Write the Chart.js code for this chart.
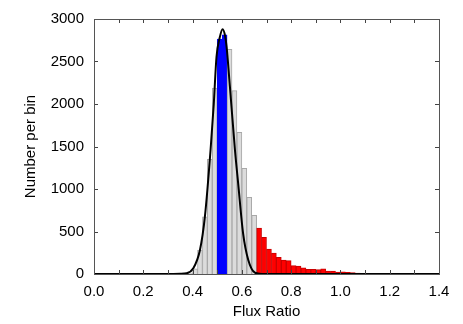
<!DOCTYPE html>
<html><head><meta charset="utf-8">
<script src="https://cdn.jsdelivr.net/npm/chart.js@4"></script>
<style>html,body{margin:0;padding:0;background:#fff}#w{width:463px;height:324px}</style>
</head><body><div id="w"><canvas id="c" width="463" height="324"></canvas></div>
<script>
// Histogram bins (left edges, width 0.02) and counts
const binStart = [0.38,0.40,0.42,0.44,0.46,0.48,0.50,0.52,0.54,0.56,0.58,0.60,0.62,0.64,
  0.66,0.68,0.70,0.72,0.74,0.76,0.78,0.80,0.82,0.84,0.86,0.88,0.90,0.92,0.94,0.96,0.98,
  1.00,1.02,1.04,1.06,1.08,1.10,1.12,1.14,1.16,1.18];
const counts = [12,60,282,674,1349,2188,2765,2815,2643,2157,1667,1243,902,690,
  540,430,294,245,196,165,157,98,94,74,55,55,51,62,35,35,23,
  27,20,16,10,8,6,5,4,3,3];
const binWidth = 0.02;
// Selected ranges
const blueRange = [0.50, 0.54];
const redFrom = 0.66;
// Fitted curve
const curveX = [0,0.30,0.35,0.376,0.403,0.43,0.45,0.473,0.486,0.497,0.51,0.522,0.532,0.538,0.5515,0.572,0.585,0.605,0.626,0.653,0.68,1.4];
const curveY = [0,0,2,8,67,282,674,1459,2000,2550,2780,2880,2800,2674,2204,1459,1067,479,165,15,0,0];
// Axis ticks
const xTicks = [0.0,0.2,0.4,0.6,0.8,1.0,1.2,1.4];
const yTicks = [0,500,1000,1500,2000,2500,3000];

const FONT = "'Liberation Sans', Arial, sans-serif";
const barColors = binStart.map(s => (s >= blueRange[0]-1e-9 && s < blueRange[1]-1e-9) ? '#0000ff' : (s >= redFrom-1e-9 ? '#ff0000' : '#dcdcdc'));
const barBorders = binStart.map(s => (s >= blueRange[0]-1e-9 && s < blueRange[1]-1e-9) ? '#0000ff' : (s >= redFrom-1e-9 ? '#c80000' : '#a8a8a8'));

const frame = {
  id: 'frame',
  afterDraw(chart) {
    const {ctx, chartArea: a, scales: {x, y}} = chart;
    ctx.save();
    ctx.strokeStyle = '#444';
    ctx.lineWidth = 1;
    ctx.beginPath();
    for (let v = 0; v <= 1.4001; v += 0.1) {
      const px = Math.round(x.getPixelForValue(v)) + 0.5;
      ctx.moveTo(px, a.bottom); ctx.lineTo(px, a.bottom - 4);
      ctx.moveTo(px, a.top); ctx.lineTo(px, a.top + 4);
    }
    yTicks.forEach(v => {
      const py = Math.round(y.getPixelForValue(v)) + 0.5;
      ctx.moveTo(a.left, py); ctx.lineTo(a.left + 4, py);
      ctx.moveTo(a.right, py); ctx.lineTo(a.right - 4, py);
    });
    ctx.stroke();
    ctx.strokeStyle = '#555';
    ctx.strokeRect(Math.round(a.left) + 0.5, Math.round(a.top) + 0.5, Math.round(a.right - a.left), Math.round(a.bottom - a.top));
    ctx.restore();
  }
};

new Chart(document.getElementById('c'), {
  type: 'bar',
  data: {
    datasets: [
      {
        type: 'line',
        data: curveX.map((v, i) => ({x: v, y: curveY[i]})),
        borderColor: '#000',
        borderWidth: 2,
        pointRadius: 0,
        cubicInterpolationMode: 'monotone',
        order: 0
      },
      {
        type: 'bar',
        data: binStart.map((s, i) => ({x: s + binWidth / 2, y: counts[i]})),
        backgroundColor: barColors,
        borderColor: barBorders,
        borderWidth: 1,
        borderSkipped: 'bottom',
        barPercentage: 1,
        categoryPercentage: 1,
        order: 1
      }
    ]
  },
  options: {
    responsive: false,
    animation: false,
    devicePixelRatio: 1,
    layout: {padding: {left: 0, right: 24, top: 19, bottom: 0}},
    plugins: {legend: {display: false}, tooltip: {enabled: false}},
    scales: {
      x: {
        type: 'linear', min: 0, max: 1.4, offset: false,
        afterBuildTicks: s => { s.ticks = xTicks.map(v => ({value: v})); },
        afterFit: s => { s.height = 50; },
        grid: {display: false, drawTicks: false},
        border: {display: false},
        ticks: {color: '#000', font: {family: FONT, size: 15}, padding: 9, maxRotation: 0,
          callback: v => Number(v).toFixed(1)},
        title: {display: true, text: 'Flux Ratio', color: '#000', font: {family: FONT, size: 15}, padding: {top: 0, bottom: 3}}
      },
      y: {
        min: 0, max: 3000,
        afterBuildTicks: s => { s.ticks = yTicks.map(v => ({value: v})); },
        afterFit: s => { s.width = 94; },
        grid: {display: false, drawTicks: false},
        border: {display: false},
        ticks: {color: '#000', font: {family: FONT, size: 15}, padding: 10, callback: v => String(v)},
        title: {display: true, text: 'Number per bin', color: '#000', font: {family: FONT, size: 15}, padding: {top: 22, bottom: 0}}
      }
    }
  },
  plugins: [frame]
});
</script>
</body></html>
